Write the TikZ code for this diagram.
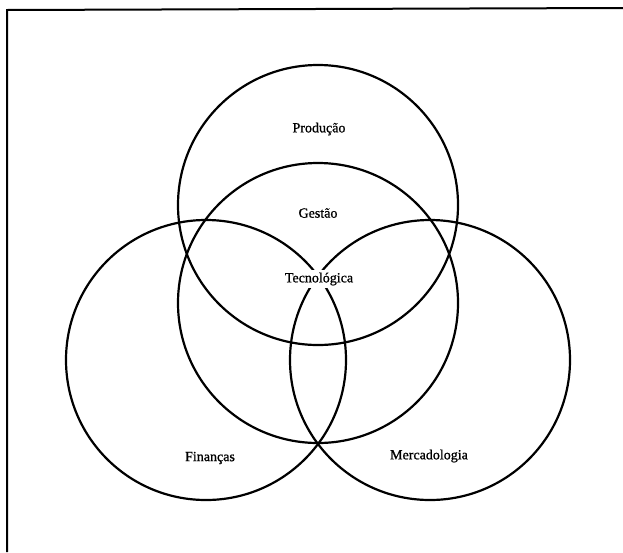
\documentclass[tikz,border=0pt]{standalone}
\usepackage{fontspec}
\setmainfont{Liberation Serif}
\newfontfamily\lblfont[FakeBold=1.0]{Liberation Serif}
\begin{document}
\begin{tikzpicture}[x=1pt,y=-1pt,
  ring/.style={draw=black,line width=2.2pt},
  lbl/.style={font=\lblfont\fontsize{14}{16}\selectfont,inner sep=0pt},
  frameline/.style={draw=black,line width=2pt}]
\useasboundingbox (0,0) rectangle (623,552);
\fill[white] (0,0) rectangle (623,552);
% frame (top and left edges only)
\coordinate (ftr) at (623,8);
\coordinate (ftl) at (7,10);
\coordinate (fbl) at (7,552);
\draw[frameline] (ftr) -- (ftl) -- (fbl);
% circles
\node[ring,circle,minimum size=280pt,inner sep=0pt] (prod) at (318,205) {};
\node[ring,circle,minimum size=280pt,inner sep=0pt] (gest) at (318,303) {};
\node[ring,circle,minimum size=280pt,inner sep=0pt] (fin) at (206,360) {};
\node[ring,circle,minimum size=280pt,inner sep=0pt] (merc) at (430,360) {};
% labels
\node[lbl] (tprod) at (319,129) {Produção};
\node[lbl] (tgest) at (318,213) {Gestão};
\node[lbl,fill=white,inner xsep=1pt,inner ysep=3pt] (ttec) at (319,279) {Tecnológica};
\node[lbl] (tfin) at (210,458) {Finanças};
\node[lbl] (tmerc) at (429,456) {Mercadologia};
\end{tikzpicture}
\end{document}
